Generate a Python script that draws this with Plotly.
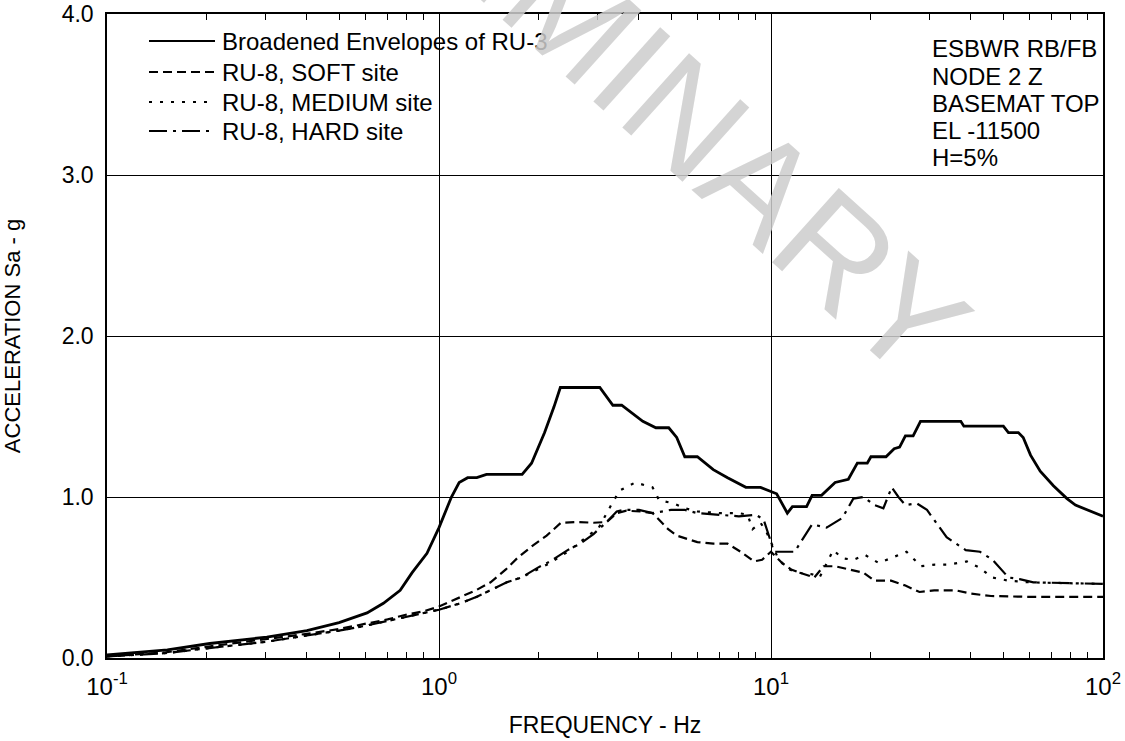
import plotly.graph_objects as go

# ---------------- data ----------------
env_f = [0.1, 0.152, 0.204, 0.303, 0.40, 0.50, 0.607, 0.68, 0.764, 0.83, 0.92, 1.0, 1.09, 1.15, 1.22,
         1.30, 1.39, 1.78, 1.90, 2.08, 2.22, 2.32, 3.05, 3.2, 3.34, 3.55, 4.11, 4.5, 4.92, 5.2, 5.5,
         6.0, 6.7, 7.4, 8.4, 9.3, 10.4, 11.2, 11.6, 12.8, 13.3, 14.2, 15.6, 17.1, 18.2, 19.5, 20.0,
         22.2, 23.5, 24.4, 25.4, 26.8, 28.2, 37.3, 38.1, 50.1, 51.9, 55.6, 57.5, 60.5, 64.7, 70.9,
         77.9, 82.6, 90.0, 100.0]
env_a = [0.02, 0.05, 0.09, 0.13, 0.17, 0.22, 0.28, 0.34, 0.42, 0.53, 0.65, 0.81, 1.00, 1.09, 1.12,
         1.12, 1.14, 1.14, 1.21, 1.40, 1.56, 1.68, 1.68, 1.62, 1.57, 1.57, 1.47, 1.43, 1.43, 1.37, 1.25,
         1.25, 1.17, 1.12, 1.06, 1.06, 1.02, 0.90, 0.94, 0.94, 1.01, 1.01, 1.09, 1.11, 1.21, 1.21, 1.25,
         1.25, 1.30, 1.31, 1.38, 1.38, 1.47, 1.47, 1.44, 1.44, 1.40, 1.40, 1.37, 1.26, 1.16, 1.07,
         0.99, 0.95, 0.92, 0.88]

soft_f = [0.1, 0.15, 0.2, 0.3, 0.4, 0.5, 0.6, 0.7, 0.8, 0.9, 1.0, 1.13, 1.29, 1.43, 1.59, 1.72, 1.92,
          2.11, 2.33, 2.61, 2.92, 3.2, 3.43, 3.67, 4.04, 4.4, 4.9, 5.2, 6.0, 6.7, 7.4, 8.1, 8.9, 9.4,
          10.0, 10.8, 11.5, 12.2, 13.5, 14.4, 15.6, 17.2, 19.0, 20.5, 23.0, 25.4, 28.0, 31.0, 36.0,
          40.0, 46.0, 60.0, 100.0]
soft_a = [0.01, 0.035, 0.07, 0.115, 0.15, 0.18, 0.21, 0.24, 0.27, 0.29, 0.32, 0.37, 0.42, 0.47, 0.55,
          0.62, 0.70, 0.76, 0.84, 0.845, 0.84, 0.845, 0.90, 0.915, 0.91, 0.90, 0.80, 0.76, 0.72, 0.71,
          0.71, 0.66, 0.60, 0.61, 0.66, 0.59, 0.55, 0.53, 0.50, 0.57, 0.57, 0.55, 0.53, 0.48, 0.48,
          0.45, 0.41, 0.42, 0.42, 0.40, 0.385, 0.38, 0.38]

med_f = [0.1, 0.15, 0.2, 0.3, 0.4, 0.5, 0.6, 0.7, 0.8, 0.9, 1.0, 1.16, 1.3, 1.6, 1.77, 1.98, 2.16,
         2.44, 2.66, 2.92, 3.03, 3.3, 3.5, 3.9, 4.4, 4.6, 5.1, 5.5, 6.0, 7.0, 8.0, 8.5, 8.8, 9.3, 9.7,
         10.0, 10.5, 11.1, 12.0, 13.3, 14.0, 14.4, 15.4, 16.4, 17.7, 19.2, 21.1, 23.6, 25.6, 28.3,
         31.2, 34.2, 38.9, 42.6, 46.3, 52.0, 60.0, 100.0]
med_a = [0.01, 0.03, 0.06, 0.10, 0.14, 0.17, 0.20, 0.23, 0.26, 0.28, 0.30, 0.34, 0.38, 0.47, 0.50,
         0.55, 0.59, 0.66, 0.72, 0.78, 0.81, 0.95, 1.04, 1.09, 1.06, 0.98, 0.96, 0.93, 0.91, 0.90,
         0.90, 0.89, 0.80, 0.84, 0.78, 0.72, 0.62, 0.56, 0.53, 0.52, 0.50, 0.55, 0.67, 0.62, 0.61,
         0.64, 0.59, 0.63, 0.66, 0.57, 0.58, 0.58, 0.60, 0.56, 0.50, 0.48, 0.47, 0.46]

hard_f = [0.1, 0.15, 0.2, 0.3, 0.4, 0.5, 0.6, 0.7, 0.8, 0.9, 1.0, 1.16, 1.3, 1.6, 1.77, 1.98, 2.16,
          2.44, 2.66, 2.92, 3.2, 3.43, 3.6, 4.0, 4.4, 5.0, 5.5, 6.0, 7.0, 8.0, 9.0, 9.5, 10.0, 10.2,
          11.0, 11.8, 12.2, 13.3, 14.7, 16.4, 17.7, 19.0, 20.5, 21.8, 23.1, 24.2, 25.4, 27.5, 29.5,
          32.5, 33.8, 38.6, 42.6, 46.5, 51.9, 56.1, 61.7, 100.0]
hard_a = [0.01, 0.03, 0.06, 0.10, 0.14, 0.17, 0.20, 0.23, 0.26, 0.28, 0.30, 0.34, 0.38, 0.47, 0.50,
          0.56, 0.60, 0.67, 0.71, 0.77, 0.845, 0.91, 0.92, 0.92, 0.90, 0.92, 0.92, 0.90, 0.89, 0.88,
          0.89, 0.86, 0.72, 0.66, 0.66, 0.66, 0.71, 0.83, 0.81, 0.87, 0.99, 1.00, 0.95, 0.93, 1.06,
          1.00, 0.95, 0.96, 0.92, 0.80, 0.75, 0.67, 0.66, 0.61, 0.50, 0.49, 0.47, 0.46]

series_names = ["Broadened Envelopes of RU-3", "RU-8, SOFT site", "RU-8, MEDIUM site", "RU-8, HARD site"]
note_lines = ["ESBWR RB/FB", "NODE 2 Z", "BASEMAT TOP", "EL -11500", "H=5%"]
x_tickvals = [0.1, 1, 10, 100]
x_ticktext = ["10<sup>-1</sup>", "10<sup>0</sup>", "10<sup>1</sup>", "10<sup>2</sup>"]
y_tickvals = [0, 1, 2, 3, 4]
x_title = "FREQUENCY - Hz"
y_title = "ACCELERATION Sa - g"
watermark = "PRELIMINARY"

# ---------------- styles ----------------
FONT = "Liberation Sans, Arial, sans-serif"
styles = [
    dict(width=2.8, dash="solid"),
    dict(width=2.2, dash="9px,5px"),
    dict(width=2.2, dash="3px,8px"),
    dict(width=2.2, dash="18px,6px,3px,6px"),
]
xs = [env_f, soft_f, med_f, hard_f]
ys = [env_a, soft_a, med_a, hard_a]

fig = go.Figure()
for name, x, y, st in zip(series_names, xs, ys, styles):
    fig.add_trace(go.Scatter(x=x, y=y, mode="lines", name=name,
                             line=dict(color="black", width=st["width"], dash=st["dash"]),
                             showlegend=False))

# minor ticks for log axis
minor_vals = [m * 10 ** k for k in (-1, 0, 1) for m in range(2, 10)]

fig.update_layout(
    width=1125, height=741,
    margin=dict(l=107, r=22, t=14, b=83),
    paper_bgcolor="white", plot_bgcolor="white",
    font=dict(family=FONT, size=23, color="black"),
    xaxis=dict(type="log", range=[-1, 2], tickvals=x_tickvals, ticktext=x_ticktext,
               showline=True, linecolor="black", linewidth=1.5, mirror="allticks",
               showgrid=True, gridcolor="black", gridwidth=1, ticks="", zeroline=False,
               automargin=False, ticklabeloverflow="allow",
               minor=dict(tickvals=minor_vals, ticks="inside", ticklen=6, tickcolor="black",
                          tickwidth=1, showgrid=False),
               tickfont=dict(size=24), ticklabelstandoff=6,
               title=dict(text=x_title, font=dict(size=23), standoff=18)),
    yaxis=dict(range=[0, 4], tickvals=y_tickvals, tickformat=".1f",
               showline=True, linecolor="black", linewidth=1.5, mirror=True,
               showgrid=True, gridcolor="black", gridwidth=1, ticks="", zeroline=False,
               automargin=False, ticklabeloverflow="allow",
               tickfont=dict(size=23), ticklabelstandoff=7,
               title=dict(text=y_title, font=dict(size=22), standoff=41)),
)

# manual legend (key lines + labels) in paper coordinates
def px_to_paper_x(px):
    return (px - 107) / 996.0

def px_to_paper_y(py):
    return (658 - py) / 644.0

leg_rows = [41, 72, 102, 131]
for name, st, row in zip(series_names, styles, leg_rows):
    yy = px_to_paper_y(row)
    fig.add_shape(type="line", xref="paper", yref="paper",
                  x0=px_to_paper_x(149), x1=px_to_paper_x(215), y0=yy, y1=yy,
                  line=dict(color="black", width=2, dash=st["dash"]))
    fig.add_annotation(xref="paper", yref="paper", x=px_to_paper_x(220), y=yy,
                       text=name, showarrow=False, xanchor="left", yanchor="middle",
                       font=dict(size=24))

note_rows = [48, 76, 103, 130, 157]
for line, row in zip(note_lines, note_rows):
    fig.add_annotation(xref="paper", yref="paper", x=px_to_paper_x(930), y=px_to_paper_y(row),
                       text=line, showarrow=False, xanchor="left", yanchor="middle",
                       font=dict(size=24))

# watermark
fig.add_annotation(xref="paper", yref="paper", x=px_to_paper_x(580), y=px_to_paper_y(22),
                   text=watermark, showarrow=False, textangle=42,
                   xanchor="center", yanchor="middle",
                   font=dict(size=145, color="rgba(205,205,205,0.85)"))

# remove the browser's default 8px page margin so the figure fills the window exactly
fig.write_html("out.html", config={"displayModeBar": False},
               post_script="document.body.style.margin='0px';")
